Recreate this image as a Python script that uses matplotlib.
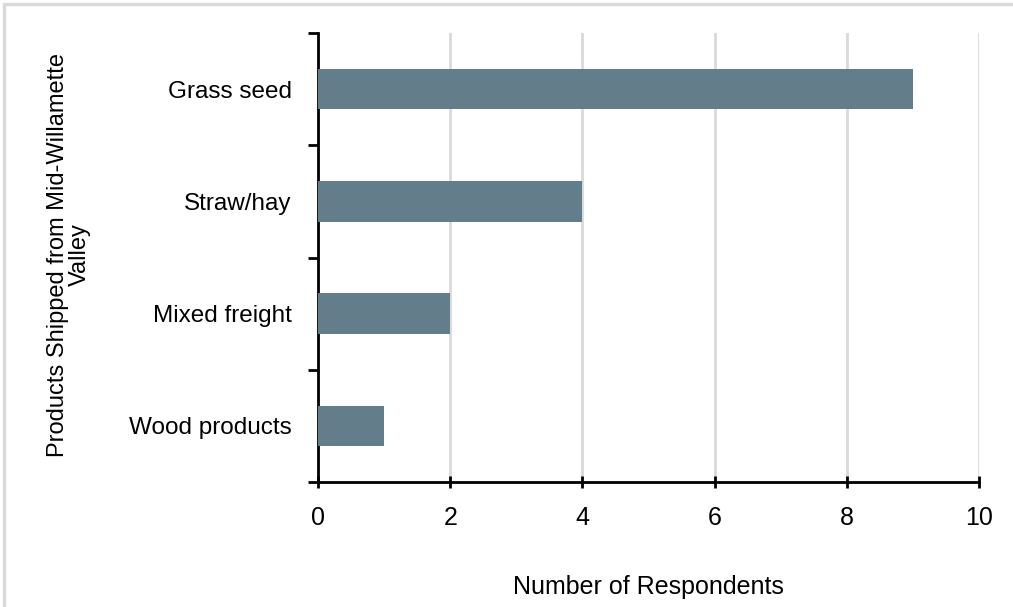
import matplotlib.pyplot as plt
from matplotlib.patches import Rectangle

products = ['Wood products', 'Mixed freight', 'Straw/hay', 'Grass seed']
respondents = [1, 2, 4, 9]

plt.rcParams['font.family'] = ['Liberation Sans', 'DejaVu Sans']

fig = plt.figure(figsize=(10.13, 6.07), dpi=100)
ax = fig.add_axes([318 / 1013, 1 - 482 / 607, (979 - 318) / 1013, (482 - 33) / 607])

# light frame around the chart area
fig.patches.append(Rectangle((4 / 1013, -0.1), 1.2, 1 - 4 / 607 + 0.1,
                             transform=fig.transFigure, fill=False,
                             edgecolor='#d9d9d9', linewidth=2.5, clip_on=False))

ypos = range(len(products))
ax.barh(ypos, respondents, height=0.36, color='#647d8b', zorder=3)

ax.set_xlim(0, 10)
ax.set_ylim(-0.5, len(products) - 0.5)
ax.set_xticks(range(0, 11, 2))
ax.tick_params(axis='x', direction='inout', length=8, width=2, labelsize=18, pad=13)
ax.set_yticks(list(ypos))
ax.set_yticklabels(products, fontsize=17.5)
ax.tick_params(axis='y', length=0, pad=19)
# category boundary ticks on the y axis
ax.set_yticks([i - 0.5 for i in range(len(products) + 1)], minor=True)
ax.tick_params(axis='y', which='minor', direction='out', length=7, width=2)

ax.grid(axis='x', color='#d9d9d9', linewidth=2, zorder=0)
for side in ('top', 'right'):
    ax.spines[side].set_visible(False)
for side in ('left', 'bottom'):
    ax.spines[side].set_linewidth(2)

ax.set_xlabel('Number of Respondents', fontsize=18, labelpad=33)
fig.text(69 / 1013, 1 - 255 / 607, 'Products Shipped from Mid-Willamette\nValley',
         rotation=90, ha='center', va='center', fontsize=17, linespacing=1.0)

fig.savefig('out.png', dpi=100)
